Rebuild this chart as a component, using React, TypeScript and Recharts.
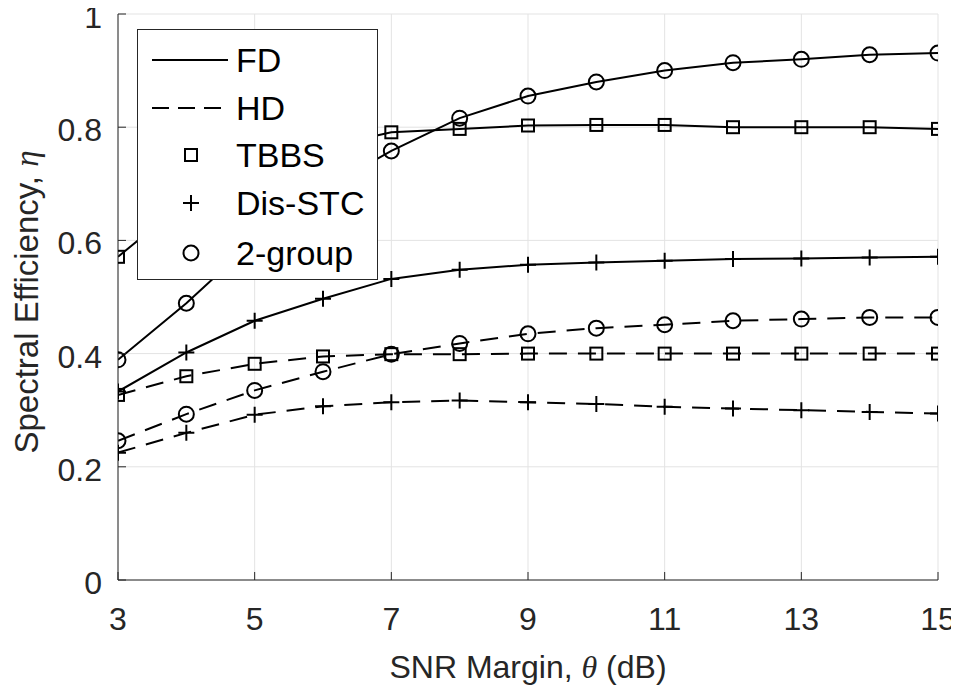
import React from "react";
import { LineChart, Line, XAxis, YAxis, CartesianGrid } from "recharts";

// SNR margin (dB) on the x axis
const snrMargin = [3, 4, 5, 6, 7, 8, 9, 10, 11, 12, 13, 14, 15];

// Full duplex
const fdTbbs = [0.571, 0.67, 0.73, 0.764, 0.791, 0.797, 0.803, 0.804, 0.804, 0.8, 0.8, 0.8, 0.797];
const fdDisStc = [0.333, 0.402, 0.458, 0.497, 0.532, 0.548, 0.557, 0.561, 0.564, 0.567, 0.568, 0.57, 0.571];
const fdTwoGroup = [0.389, 0.489, 0.6, 0.69, 0.758, 0.816, 0.855, 0.88, 0.9, 0.914, 0.92, 0.928, 0.931];

// Half duplex
const hdTbbs = [0.327, 0.36, 0.382, 0.395, 0.399, 0.399, 0.4, 0.4, 0.4, 0.4, 0.4, 0.4, 0.4];
const hdDisStc = [0.225, 0.26, 0.292, 0.307, 0.314, 0.317, 0.314, 0.311, 0.306, 0.303, 0.3, 0.297, 0.294];
const hdTwoGroup = [0.246, 0.293, 0.335, 0.368, 0.399, 0.418, 0.435, 0.445, 0.451, 0.458, 0.461, 0.464, 0.464];

const xTicks = [3, 5, 7, 9, 11, 13, 15];
const yTicks = [0, 0.2, 0.4, 0.6, 0.8, 1];

const legendLineLabels = ["FD", "HD"];
const legendMarkerLabels = ["TBBS", "Dis-STC", "2-group"];

const AXIS = "#262626";
const FONT = "'Liberation Sans', Arial, Helvetica, sans-serif";
const DASH = "18 11";

const data = snrMargin.map((x, i) => ({
  x,
  fdTbbs: fdTbbs[i],
  fdDisStc: fdDisStc[i],
  fdTwoGroup: fdTwoGroup[i],
  hdTbbs: hdTbbs[i],
  hdDisStc: hdDisStc[i],
  hdTwoGroup: hdTwoGroup[i],
}));

type MarkerKind = "square" | "plus" | "circle";

const series: { key: string; dashed: boolean; marker: MarkerKind }[] = [
  { key: "fdTbbs", dashed: false, marker: "square" },
  { key: "fdDisStc", dashed: false, marker: "plus" },
  { key: "fdTwoGroup", dashed: false, marker: "circle" },
  { key: "hdTbbs", dashed: true, marker: "square" },
  { key: "hdDisStc", dashed: true, marker: "plus" },
  { key: "hdTwoGroup", dashed: true, marker: "circle" },
];

const markerKinds: MarkerKind[] = ["square", "plus", "circle"];

function Marker({ cx, cy, kind }: { cx: number; cy: number; kind: MarkerKind }) {
  if (cx == null || cy == null) return null;
  if (kind === "square") {
    return (
      <rect x={cx - 6} y={cy - 6} width={12} height={12} fill="none" stroke="#000" strokeWidth={2} />
    );
  }
  if (kind === "circle") {
    return <circle cx={cx} cy={cy} r={7.5} fill="none" stroke="#000" strokeWidth={2} />;
  }
  return (
    <path
      d={`M${cx - 8},${cy}H${cx + 8}M${cx},${cy - 8}V${cy + 8}`}
      fill="none"
      stroke="#000"
      strokeWidth={2}
    />
  );
}

// ticks point inward on all four sides, like MATLAB
const BottomTick = (props: any) => {
  const { x, y, payload } = props;
  return (
    <g>
      <line x1={x} x2={x} y1={y} y2={y - 8} stroke={AXIS} />
      <text x={x} y={y + 50} textAnchor="middle" fontSize={32} fill={AXIS} fontFamily={FONT}>
        {payload.value}
      </text>
    </g>
  );
};

const TopTick = (props: any) => {
  const { x, y } = props;
  return <line x1={x} x2={x} y1={y} y2={y + 8} stroke={AXIS} />;
};

const LeftTick = (props: any) => {
  const { x, y, payload } = props;
  return (
    <g>
      <line x1={x} x2={x + 8} y1={y} y2={y} stroke={AXIS} />
      <text x={x - 16} y={y + 14} textAnchor="end" fontSize={32} fill={AXIS} fontFamily={FONT}>
        {String(payload.value)}
      </text>
    </g>
  );
};

const RightTick = (props: any) => {
  const { x, y } = props;
  return <line x1={x} x2={x - 8} y1={y} y2={y} stroke={AXIS} />;
};

function LegendBox() {
  const rowY = [30, 78, 125, 173, 223];
  return (
    <div
      style={{
        position: "absolute",
        left: 137,
        top: 29,
        width: 241,
        height: 251,
        boxSizing: "border-box",
        border: `1px solid ${AXIS}`,
        background: "#fff",
      }}
    >
      <svg width={239} height={249} style={{ display: "block" }}>
        {legendLineLabels.map((label, i) => (
          <g key={label}>
            <line
              x1={14}
              x2={90}
              y1={rowY[i]}
              y2={rowY[i]}
              stroke="#000"
              strokeWidth={2}
              strokeDasharray={i === 1 ? "17 9" : undefined}
            />
            <text x={98} y={rowY[i] + 12} fontSize={34} fontFamily={FONT} fill="#000">
              {label}
            </text>
          </g>
        ))}
        {legendMarkerLabels.map((label, i) => (
          <g key={label}>
            <Marker cx={53} cy={rowY[i + 2]} kind={markerKinds[i]} />
            <text x={98} y={rowY[i + 2] + 12} fontSize={34} fontFamily={FONT} fill="#000">
              {label}
            </text>
          </g>
        ))}
      </svg>
    </div>
  );
}

export default function App() {
  return (
    <div
      style={{
        position: "relative",
        width: 959,
        height: 694,
        marginLeft: -8,
        marginTop: -8,
        fontFamily: FONT,
      }}
    >
      <LineChart width={959} height={694} data={data} margin={{ top: 14, right: 21, left: 0, bottom: 0 }}>
        <CartesianGrid stroke="#e3e3e3" strokeWidth={1} />
        <XAxis
          dataKey="x"
          type="number"
          domain={[3, 15]}
          ticks={xTicks}
          height={114}
          tickLine={false}
          tickSize={0}
          tickMargin={0}
          tick={<BottomTick />}
          axisLine={{ stroke: AXIS }}
          allowDataOverflow
        />
        <XAxis
          xAxisId="top"
          orientation="top"
          dataKey="x"
          type="number"
          domain={[3, 15]}
          ticks={xTicks}
          height={0}
          tickLine={false}
          tickSize={0}
          tickMargin={0}
          tick={<TopTick />}
          axisLine={{ stroke: AXIS }}
          allowDataOverflow
        />
        <YAxis
          type="number"
          domain={[0, 1]}
          ticks={yTicks}
          width={118}
          tickLine={false}
          tickSize={0}
          tickMargin={0}
          tick={<LeftTick />}
          axisLine={{ stroke: AXIS }}
          allowDataOverflow
        />
        <YAxis
          yAxisId="right"
          orientation="right"
          type="number"
          domain={[0, 1]}
          ticks={yTicks}
          width={0}
          tickLine={false}
          tickSize={0}
          tickMargin={0}
          tick={<RightTick />}
          axisLine={{ stroke: AXIS }}
          allowDataOverflow
        />
        {series.map((s) => (
          <Line
            key={s.key}
            dataKey={s.key}
            type="linear"
            stroke="#000"
            strokeWidth={2}
            strokeDasharray={s.dashed ? DASH : undefined}
            dot={(p: any) => <Marker key={`${s.key}-${p.index}`} cx={p.cx} cy={p.cy} kind={s.marker} />}
            activeDot={false}
            isAnimationActive={false}
          />
        ))}
      </LineChart>
      <svg
        width={959}
        height={694}
        style={{ position: "absolute", left: 0, top: 0, pointerEvents: "none" }}
      >
        <text x={528} y={678} textAnchor="middle" fontSize={32} fill={AXIS} fontFamily={FONT}>
          SNR Margin,{" "}
          <tspan fontStyle="italic" fontFamily="'Liberation Serif', serif">
            θ
          </tspan>{" "}
          (dB)
        </text>
        <text
          x={38}
          y={302}
          transform="rotate(-90, 38, 302)"
          textAnchor="middle"
          fontSize={33}
          fill={AXIS}
          fontFamily={FONT}
        >
          Spectral Efficiency,{" "}
          <tspan fontStyle="italic" fontFamily="'Liberation Serif', serif">
            η
          </tspan>
        </text>
      </svg>
      <LegendBox />
    </div>
  );
}
